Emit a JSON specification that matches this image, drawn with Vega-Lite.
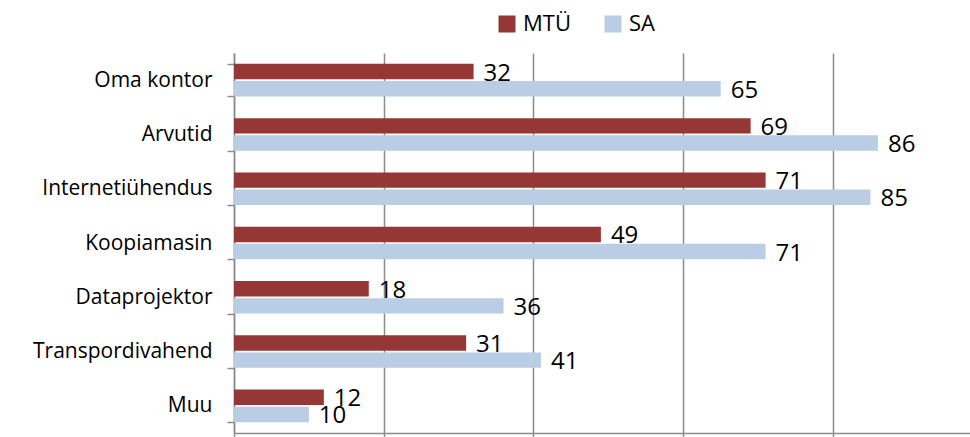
{
  "$schema": "https://vega.github.io/schema/vega-lite/v6.json",
  "width": 736,
  "height": 380,
  "autosize": {"type": "none"},
  "padding": {"left": 234, "top": 53, "right": 0, "bottom": 4},
  "background": "white",
  "data": {
    "values": [
      {"kategooria": "Oma kontor", "grupp": "MTÜ", "vaartus": 32},
      {"kategooria": "Oma kontor", "grupp": "SA", "vaartus": 65},
      {"kategooria": "Arvutid", "grupp": "MTÜ", "vaartus": 69},
      {"kategooria": "Arvutid", "grupp": "SA", "vaartus": 86},
      {"kategooria": "Internetiühendus", "grupp": "MTÜ", "vaartus": 71},
      {"kategooria": "Internetiühendus", "grupp": "SA", "vaartus": 85},
      {"kategooria": "Koopiamasin", "grupp": "MTÜ", "vaartus": 49},
      {"kategooria": "Koopiamasin", "grupp": "SA", "vaartus": 71},
      {"kategooria": "Dataprojektor", "grupp": "MTÜ", "vaartus": 18},
      {"kategooria": "Dataprojektor", "grupp": "SA", "vaartus": 36},
      {"kategooria": "Transpordivahend", "grupp": "MTÜ", "vaartus": 31},
      {"kategooria": "Transpordivahend", "grupp": "SA", "vaartus": 41},
      {"kategooria": "Muu", "grupp": "MTÜ", "vaartus": 12},
      {"kategooria": "Muu", "grupp": "SA", "vaartus": 10}
    ]
  },
  "encoding": {
    "y": {
      "field": "kategooria",
      "type": "nominal",
      "sort": null,
      "scale": {"paddingInner": 0.4, "paddingOuter": 0.2},
      "axis": {
        "title": null,
        "tickBand": "extent",
        "grid": false,
        "domainColor": "#8c8c8c",
        "domainWidth": 1.5,
        "tickColor": "#8c8c8c",
        "tickWidth": 1.5,
        "tickSize": 7,
        "labelPadding": 15,
        "labelFont": "Open Sans",
        "labelFontSize": 21,
        "labelColor": "#000000"
      }
    },
    "yOffset": {
      "field": "grupp",
      "type": "nominal",
      "scale": {"paddingInner": 0.1, "paddingOuter": 0}
    },
    "x": {
      "field": "vaartus",
      "type": "quantitative",
      "scale": {"domain": [0, 98.3], "nice": false, "zero": true},
      "axis": {
        "title": null,
        "values": [0, 20, 40, 60, 80],
        "labels": false,
        "grid": true,
        "gridColor": "#8c8c8c",
        "gridWidth": 1.5,
        "domainColor": "#8c8c8c",
        "domainWidth": 1.5,
        "tickColor": "#8c8c8c",
        "tickWidth": 1.5,
        "tickSize": 5
      }
    }
  },
  "layer": [
    {
      "mark": {"type": "bar"},
      "encoding": {
        "color": {
          "field": "grupp",
          "type": "nominal",
          "scale": {"domain": ["MTÜ", "SA"], "range": ["#953735", "#b9cde5"]},
          "legend": {
            "title": null,
            "orient": "none",
            "direction": "horizontal",
            "legendX": 262,
            "legendY": -40,
            "symbolType": "square",
            "symbolSize": 289,
            "symbolStrokeWidth": 0,
            "labelFont": "Open Sans",
            "labelFontSize": 22,
            "labelColor": "#000000",
            "labelOffset": 5,
            "columnPadding": 31
          }
        }
      }
    },
    {
      "mark": {
        "type": "text",
        "align": "left",
        "baseline": "middle",
        "dx": 10,
        "dy": 2,
        "font": "Open Sans",
        "fontSize": 24,
        "color": "#000000"
      },
      "encoding": {
        "text": {"field": "vaartus", "type": "quantitative"}
      }
    }
  ],
  "config": {"view": {"stroke": null}}
}
